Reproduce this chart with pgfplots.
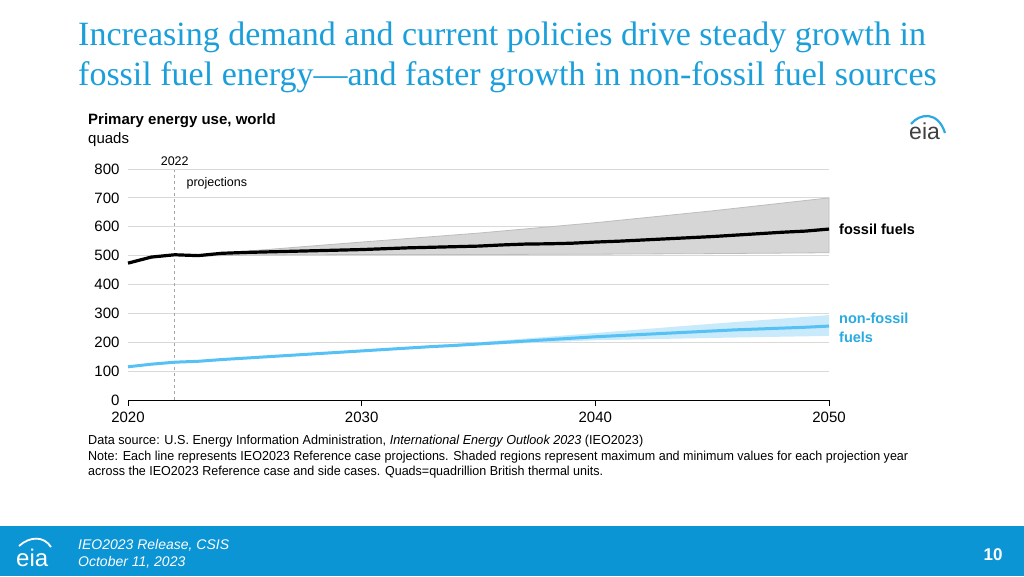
\documentclass[border=0pt]{standalone}
\usepackage{pgfplots}
\pgfplotsset{compat=1.18}
\usepackage{fontspec}
\setmainfont{Liberation Sans}
\newfontfamily\titlefont{Liberation Serif}
\usepackage{graphicx}
\definecolor{titleblue}{HTML}{1A9FDA}
\definecolor{footblue}{HTML}{0B95D5}
\definecolor{nfline}{HTML}{55C1F4}
\definecolor{nfband}{HTML}{C8EAFB}
\definecolor{nflabel}{HTML}{29ABE2}
\definecolor{ffband}{HTML}{D6D6D6}
\definecolor{ffedge}{HTML}{BDBDBD}
\definecolor{gridgray}{HTML}{D9D9D9}
\definecolor{logogray}{HTML}{404040}

\pgfplotstableread{
year fossil
2020 474
2021 495
2022 503
2023 500
2024 508
2025 511
2026 513
2027 515
2028 517
2029 519
2030 521
2031 524
2032 527
2033 529
2034 531
2035 533
2036 537
2037 540
2038 541
2039 543
2040 547
2041 550
2042 554
2043 558
2044 562
2045 566
2046 571
2047 576
2048 581
2049 585
2050 592
}\fossiltab

\pgfplotstableread{
year nonfossil
2020 115
2021 124
2022 131
2023 134
2024 140
2025 145
2026 150
2027 155
2028 160
2029 165
2030 170
2031 175
2032 180
2033 185
2034 189
2035 194
2036 199
2037 204
2038 209
2039 214
2040 219
2041 223
2042 227
2043 231
2044 235
2045 239
2046 243
2047 246
2048 249
2049 252
2050 256
}\nonfossiltab

\begin{document}
\begin{tikzpicture}
\useasboundingbox (0pt,0pt) rectangle (1024pt,576pt);
\fill[white] (0pt,0pt) rectangle (1024pt,576pt);
% footer
\fill[footblue] (0pt,0pt) rectangle (1024pt,50pt);
\node[anchor=base west, text=white, inner sep=0pt, font=\fontsize{14}{14}\selectfont\itshape] at (78pt,27pt) {IEO2023 Release, CSIS};
\node[anchor=base west, text=white, inner sep=0pt, font=\fontsize{14}{14}\selectfont\itshape] at (78pt,10pt) {October 11, 2023};
\node[anchor=base, text=white, inner sep=0pt, font=\fontsize{17}{17}\selectfont\bfseries] at (993pt,16pt) {10};
\node[anchor=base west, text=white, inner sep=0pt, font=\fontsize{24}{24}\selectfont] at (16pt,10pt) {eia};
\draw[white, line width=1.8pt] (19pt,30pt) .. controls (30pt,40pt) and (44pt,40pt) .. (51pt,29pt);
% title
\node[anchor=base west, text=titleblue, inner sep=0pt, font=\titlefont\fontsize{34}{40}\selectfont] at (78pt,530pt) {Increasing demand and current policies drive steady growth in};
\node[anchor=base west, text=titleblue, inner sep=0pt, font=\titlefont\fontsize{34}{40}\selectfont] at (78pt,490pt) {fossil fuel energy—and faster growth in non-fossil fuel sources};
% chart titles
\node[anchor=base west, inner sep=0pt, font=\fontsize{15}{15}\selectfont\bfseries] at (88pt,451pt) {Primary energy use, world};
\node[anchor=base west, inner sep=0pt, font=\fontsize{15}{15}\selectfont] at (88pt,432pt) {quads};
% eia logo top right
\node[anchor=base west, text=logogray, inner sep=0pt, font=\fontsize{23}{23}\selectfont] at (909pt,436pt) {eia};
\draw[nflabel, line width=2.2pt] (911pt,452pt) .. controls (920pt,463pt) and (938pt,465pt) .. (945pt,443pt);
% notes
\node[anchor=base west, inner sep=0pt, font=\fontsize{13}{13}\selectfont] at (88pt,132pt) {\resizebox{555pt}{\height}{Data source: U.S. Energy Information Administration, \textit{International Energy Outlook 2023} (IEO2023)}};
\node[anchor=base west, inner sep=0pt, font=\fontsize{13}{13}\selectfont] at (88pt,116pt) {\resizebox{820pt}{\height}{Note: Each line represents IEO2023 Reference case projections. Shaded regions represent maximum and minimum values for each projection year}};
\node[anchor=base west, inner sep=0pt, font=\fontsize{13}{13}\selectfont] at (88pt,101pt) {\resizebox{515pt}{\height}{across the IEO2023 Reference case and side cases. Quads=quadrillion British thermal units.}};
% right labels
\node[anchor=base west, inner sep=0pt, font=\fontsize{14.5}{14.5}\selectfont\bfseries] at (839pt,341pt) {fossil fuels};
\node[anchor=base west, inner sep=0pt, text=nflabel, font=\fontsize{14.5}{14.5}\selectfont\bfseries] at (839pt,252pt) {non-fossil};
\node[anchor=base west, inner sep=0pt, text=nflabel, font=\fontsize{14.5}{14.5}\selectfont\bfseries] at (839pt,234pt) {fuels};

\begin{axis}[
  at={(128pt,176pt)}, anchor=south west,
  scale only axis, width=701pt, height=231pt,
  xmin=2020, xmax=2050, ymin=0, ymax=800,
  xtick={2020,2030,2040,2050}, ytick={0,100,...,800},
  axis x line*=bottom, axis y line*=left,
  y axis line style={draw=none}, ytick style={draw=none},
  x axis line style={black, line width=1pt, -},
  xtick style={black, line width=0.9pt},
  xtick align=outside, major tick length=6pt,
  ymajorgrids, grid style={gridgray, line width=0.8pt},
  tick label style={font=\fontsize{15}{15}\selectfont},
  xticklabel style={yshift=-2pt},
  yticklabel style={xshift=-5pt},
  /pgf/number format/assume math mode=true,
  /pgf/number format/set thousands separator={},
  clip=false,
]
\addplot[fill=ffband, draw=ffedge, line width=0.8pt] coordinates {(2022,503) (2023,500) (2025,515) (2030,547) (2035,578) (2040,614) (2045,655) (2050,700) (2050,510) (2045,507) (2040,505) (2035,504) (2030,504) (2025,502) (2023,498) (2022,503)};
\addplot[fill=nfband, draw=none] coordinates {(2022,131) (2023,134) (2025,146) (2030,172) (2035,200) (2040,232) (2045,264) (2050,294) (2050,222) (2045,215) (2040,207) (2035,190) (2030,168) (2025,144) (2023,134) (2022,131)};
\addplot[gray!70, dashed, line width=0.8pt] coordinates {(2022,0) (2022,795)};
\addplot[black, line width=3.2pt] table[x=year, y=fossil] {\fossiltab};
\addplot[nfline, line width=3pt] table[x=year, y=nonfossil] {\nonfossiltab};
\node[anchor=base, inner sep=0pt, font=\fontsize{12.5}{12.5}\selectfont] at (axis cs:2022,812) {2022};
\node[anchor=base west, inner sep=0pt, font=\fontsize{12.5}{12.5}\selectfont] at (axis cs:2022.5,738) {projections};
\end{axis}
\end{tikzpicture}
\end{document}
